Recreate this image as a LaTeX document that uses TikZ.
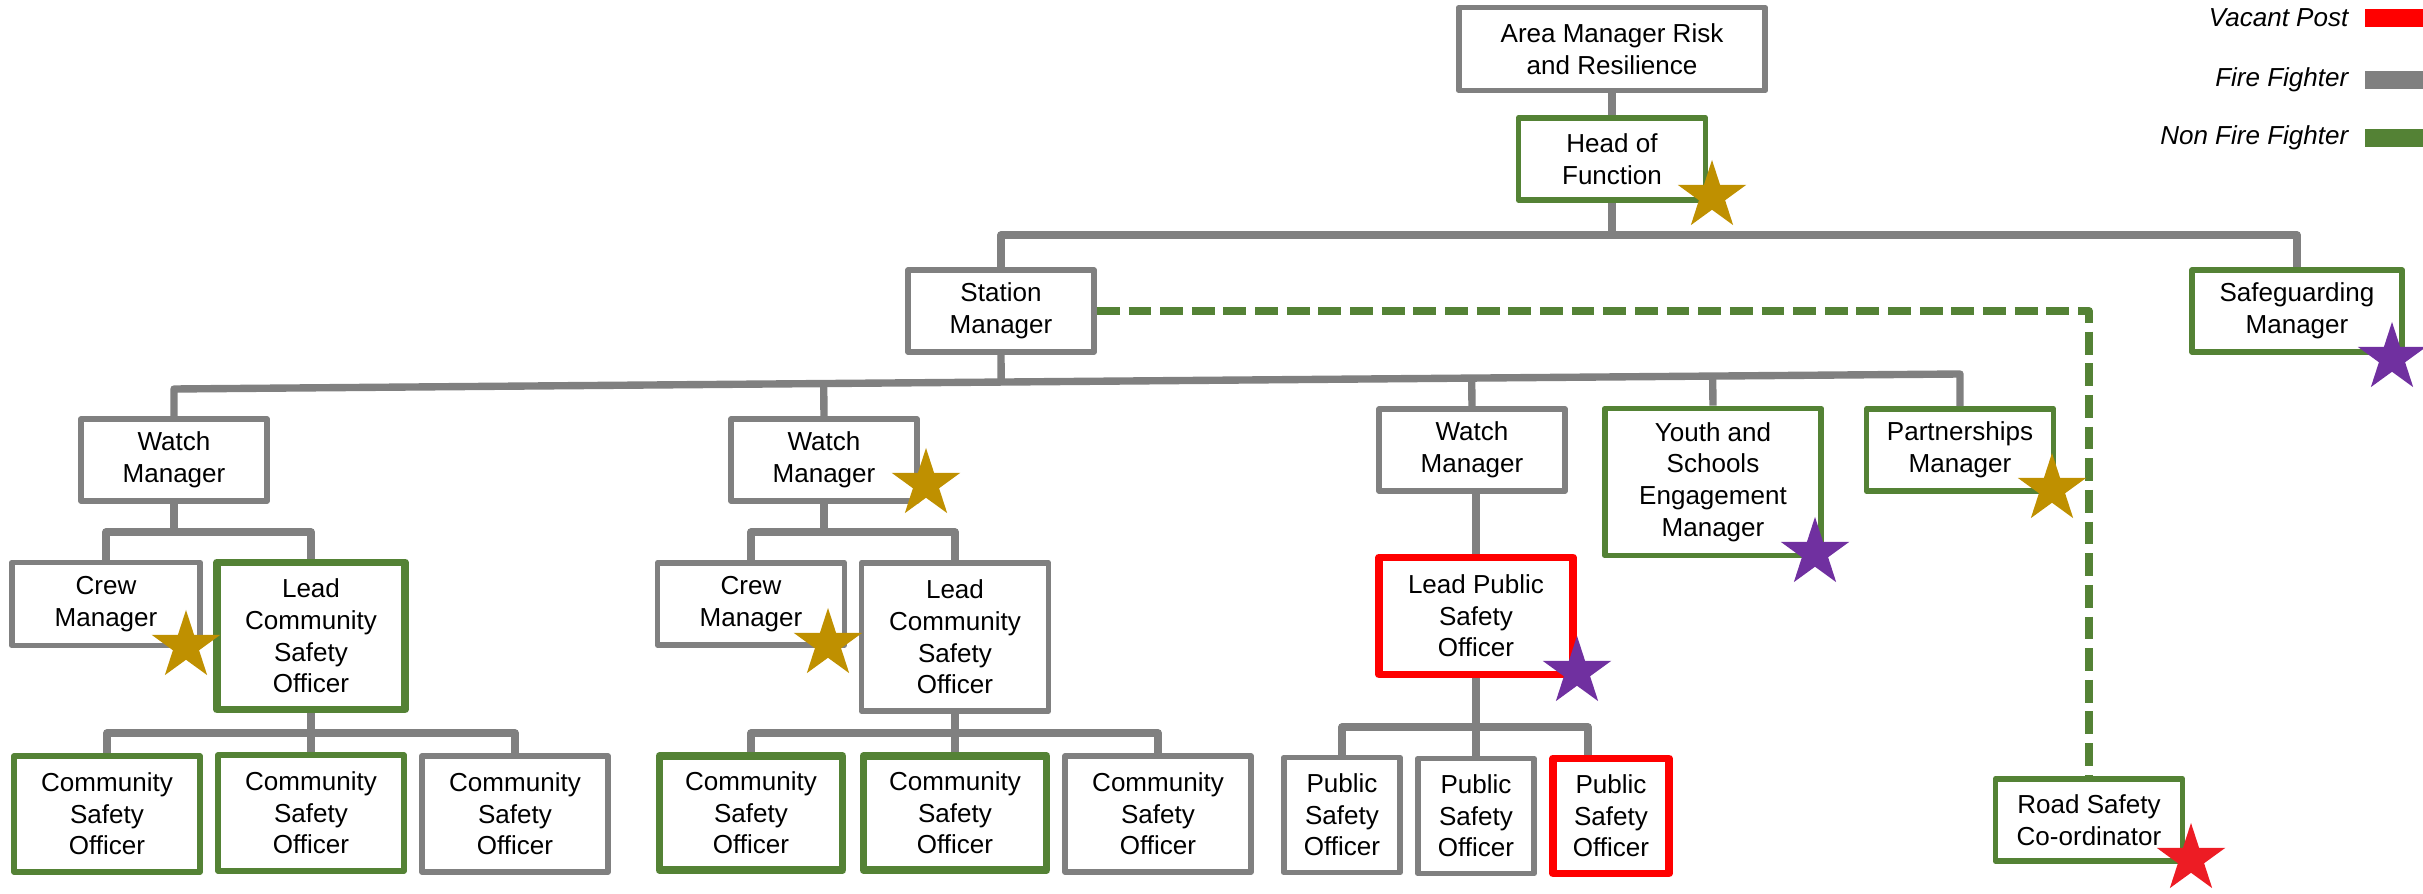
\documentclass[tikz,border=0pt]{standalone}
\usepackage{fontspec}
\setmainfont{Liberation Sans}
\usepackage{tikz}
\usetikzlibrary{shapes.geometric,calc}
\definecolor{ffgray}{RGB}{128,128,128}
\definecolor{nffgreen}{RGB}{84,130,53}
\definecolor{vacred}{RGB}{255,0,0}
\definecolor{stargold}{RGB}{191,144,0}
\definecolor{starpurple}{RGB}{112,48,160}
\definecolor{starred}{RGB}{237,28,36}
\def\postw{1.86cm}
\def\posth{0.82cm}

\begin{document}
\begin{tikzpicture}[x=0.01cm,y=-0.01cm,line join=round]
	\tikzstyle{post}=[rectangle,fill=white,line width=1.6pt,align=center,inner sep=1pt,minimum width=\postw,minimum height=\posth,font=\fontsize{7.4}{9}\selectfont]
	\tikzstyle{ff post}=[post,draw=ffgray]
	\tikzstyle{nff post}=[post,draw=nffgreen]
	\tikzstyle{bold post}=[line width=2.2pt]
	\tikzstyle{vacant post}=[post,bold post,draw=vacred]
	\tikzstyle{officer}=[minimum height=1.16cm]
	\tikzstyle{link}=[draw=ffgray,line width=2.1pt]
	\tikzstyle{dashed link}=[draw=nffgreen,line width=2.2pt,dash pattern=on 6.5pt off 2.5pt]
	\tikzstyle{rank star}=[star,star points=5,star point ratio=2.618,minimum size=0.72cm,inner sep=0pt]
	\tikzstyle{legend text}=[anchor=east,inner sep=0pt,font=\fontsize{7.4}{9}\selectfont\itshape]
	\tikzstyle{legend bar}=[rectangle,inner sep=0pt,minimum width=0.59cm,minimum height=0.18cm]

	\useasboundingbox (0,0) rectangle (2423,894);

	% Draw the top of the chart
	\node[ff post,minimum width=3.06cm,minimum height=0.83cm] (am) at (1612,49) {Area Manager Risk\\and Resilience};
	\node[nff post,minimum width=1.87cm] (head) at (1612,159) {Head of\\Function};
	\node[ff post] (sm) at (1001,311) {Station\\Manager};
	\node[nff post,minimum width=2.10cm] (sg) at (2297,311) {Safeguarding\\Manager};
	% Draw the manager row
	\node[ff post] (w1) at (174,460) {Watch\\Manager};
	\node[ff post] (w2) at (824,460) {Watch\\Manager};
	\node[ff post] (w3) at (1472,450) {Watch\\Manager};
	\node[nff post,minimum width=2.16cm,minimum height=1.47cm] (ys) at (1713,482) {Youth and\\Schools\\Engagement\\Manager};
	\node[nff post,minimum width=1.87cm] (pm) at (1960,450) {Partnerships\\Manager};
	% Draw the crew and lead row
	\node[ff post,minimum width=1.88cm,minimum height=0.83cm] (cm1) at (106,604) {Crew\\Manager};
	\node[nff post,bold post,minimum width=1.88cm,minimum height=1.47cm] (lc1) at (311,636) {Lead\\Community\\Safety\\Officer};
	\node[ff post,minimum width=1.87cm] (cm2) at (751,604) {Crew\\Manager};
	\node[ff post,minimum width=1.87cm,minimum height=1.48cm] (lc2) at (955,637) {Lead\\Community\\Safety\\Officer};
	\node[vacant post,minimum width=1.94cm,minimum height=1.17cm] (lp) at (1476,616) {Lead Public\\Safety\\Officer};
	% Draw the officer row
	\node[nff post,officer] (cso1) at (107,814) {Community\\Safety\\Officer};
	\node[nff post,officer] (cso2) at (311,813) {Community\\Safety\\Officer};
	\node[ff post,officer] (cso3) at (515,814) {Community\\Safety\\Officer};
	\node[nff post,bold post,minimum width=1.83cm,minimum height=1.14cm] (cso4) at (751,813) {Community\\Safety\\Officer};
	\node[nff post,bold post,minimum width=1.83cm,minimum height=1.14cm] (cso5) at (955,813) {Community\\Safety\\Officer};
	\node[ff post,officer] (cso6) at (1158,814) {Community\\Safety\\Officer};
	\node[ff post,minimum width=1.16cm,minimum height=1.15cm] (ps1) at (1342,815) {Public\\Safety\\Officer};
	\node[ff post,minimum width=1.16cm,minimum height=1.15cm] (ps2) at (1476,816) {Public\\Safety\\Officer};
	\node[vacant post,minimum width=1.16cm,minimum height=1.15cm] (ps3) at (1611,816) {Public\\Safety\\Officer};
	\node[nff post,minimum width=1.87cm] (rs) at (2089,820) {Road Safety\\Co-ordinator};

	% Connect the top of the chart
	\coordinate (j-head) at (1612,235);
	\draw[link] (am) -- (head);
	\draw[link] (head) -- (j-head);
	\draw[link] (sm) |- (j-head) -| (sg);
	\draw[dashed link] (sm) -| (rs);
	% Connect the station manager to the manager row
	\coordinate (busL) at (174,389);
	\coordinate (busR) at (1960,374);
	\draw[link] (w1) -- (busL) -- (busR) -- (pm);
	\draw[link] (sm.south) -- ($(busL)!(sm.south)!(busR)$);
	\foreach \n in {w2,w3,ys}
	\draw[link] (\n.north) -- ($(busL)!(\n.north)!(busR)$);
	% Connect the watch managers to their teams
	\coordinate (j-w1) at (174,532);
	\coordinate (j-w2) at (824,532);
	\draw[link] (w1) -- (j-w1);
	\draw[link] (cm1) |- (j-w1) -| (lc1);
	\draw[link] (w2) -- (j-w2);
	\draw[link] (cm2) |- (j-w2) -| (lc2);
	\draw[link] (lp) -- (lp |- w3.south);
	% Connect the leads to their officers
	\coordinate (j-lc1) at (311,733);
	\coordinate (j-lc2) at (955,733);
	\coordinate (j-lp) at (1476,727);
	\draw[link] (lc1) -- (cso2);
	\draw[link] (cso1) |- (j-lc1) -| (cso3);
	\draw[link] (lc2) -- (cso5);
	\draw[link] (cso4) |- (j-lc2) -| (cso6);
	\draw[link] (lp) -- (ps2);
	\draw[link] (ps1) |- (j-lp) -| ([xshift=-0.23cm]ps3.north);

	% Draw the stars
	\foreach \name/\x/\y/\col in {s-head/1712/196/stargold,s-cm1/186/646/stargold,s-w2/926/484/stargold,s-cm2/828/644/stargold,s-pm/2052/489/stargold,s-ys/1815/553/starpurple,s-lp/1577/672/starpurple,s-sg/2392/358/starpurple,s-rs/2191/859/starred}
	\node[rank star,fill=\col] (\name) at (\x,\y) {};

	% Draw the legend
	\foreach \name/\y/\col/\txt in {vac/18/vacred/Vacant Post,ff/80/ffgray/Fire Fighter,nff/138/nffgreen/Non Fire Fighter} {
		\node[legend text] (lg-\name) at (2349,\y) {\txt};
		\node[legend bar,fill=\col] (bar-\name) at (2394,\y) {};
	}
\end{tikzpicture}
\end{document}
